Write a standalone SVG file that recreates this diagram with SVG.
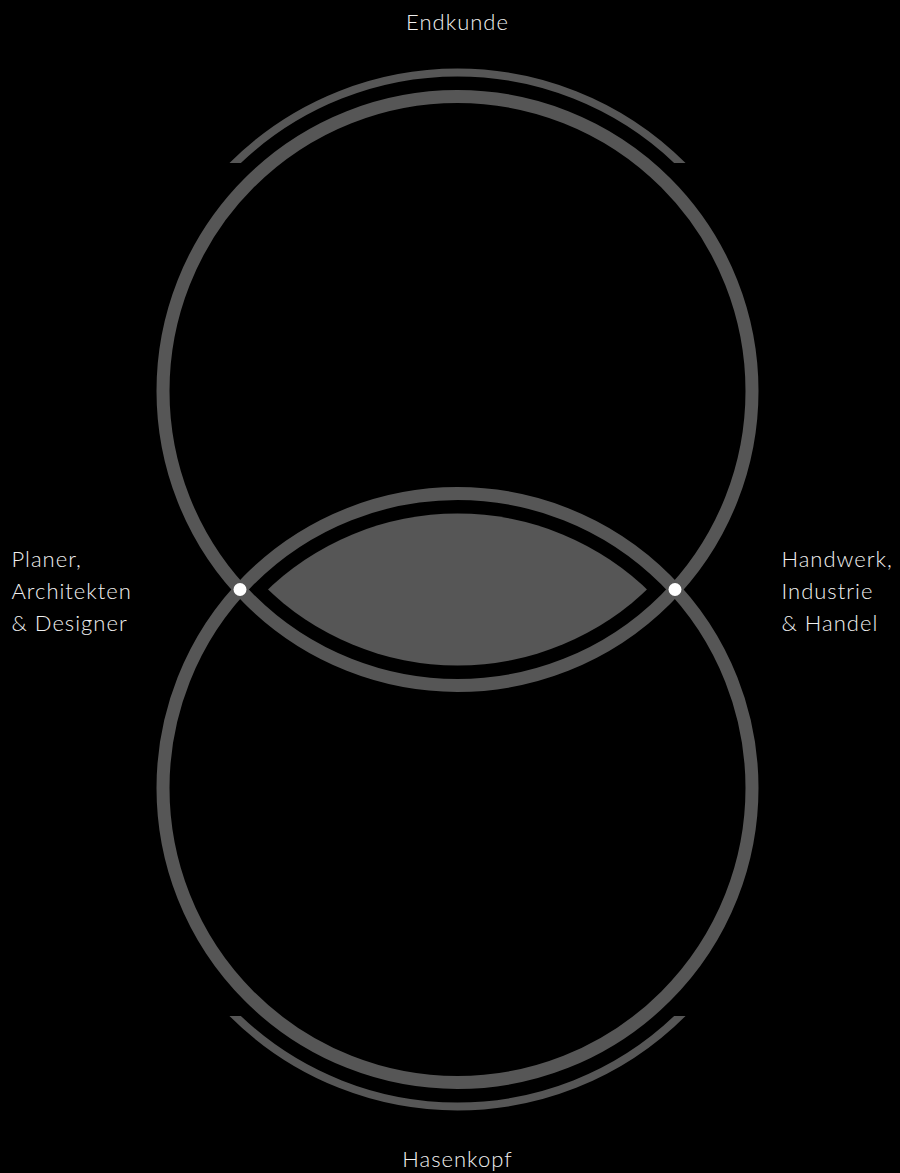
<svg xmlns="http://www.w3.org/2000/svg" width="900" height="1173" viewBox="0 0 900 1173">
  <style>
    .ring { fill: none; stroke: #565656; stroke-width: 13; }
    .arc { fill: none; stroke: #565656; stroke-width: 8; }
    .lbl { fill: #f0f0f0; font-family: Lato, "Noto Sans", "Liberation Sans", sans-serif; font-size: 22px; font-weight: 300; letter-spacing: 1px; }
    .dot { fill: #ffffff; }
  </style>
  <defs>
    <clipPath id="clipTop"><rect x="0" y="0" width="900" height="163"/></clipPath>
    <clipPath id="clipBot"><rect x="0" y="1016" width="900" height="157"/></clipPath>
    <clipPath id="clipLens"><circle cx="457.5" cy="391" r="274.5"/></clipPath>
  </defs>
  <rect x="0" y="0" width="900" height="1173" fill="#000000"/>
  <g id="lens">
    <circle cx="457.5" cy="788" r="274.5" fill="#565656" clip-path="url(#clipLens)"/>
  </g>
  <g id="circle-top">
    <circle class="ring" cx="457.5" cy="391" r="294.5"/>
    <circle class="arc" cx="457.5" cy="391" r="318.5" clip-path="url(#clipTop)"/>
  </g>
  <g id="circle-bottom">
    <circle class="ring" cx="457.5" cy="788" r="294.5"/>
    <circle class="arc" cx="457.5" cy="788" r="318.5" clip-path="url(#clipBot)"/>
  </g>
  <g id="dots">
    <circle class="dot" cx="240" cy="589.5" r="6.5"/>
    <circle class="dot" cx="675" cy="589.5" r="6.5"/>
  </g>
  <g id="label-top"><text class="lbl" x="457.5" y="30" text-anchor="middle">Endkunde</text></g>
  <g id="label-bottom"><text class="lbl" x="457.5" y="1166.5" text-anchor="middle">Hasenkopf</text></g>
  <g id="label-left">
    <text class="lbl" x="11.5" y="566.5">Planer,</text>
    <text class="lbl" x="11.5" y="599">Architekten</text>
    <text class="lbl" x="11.5" y="630.5">&amp; Designer</text>
  </g>
  <g id="label-right">
    <text class="lbl" x="781.5" y="566.5">Handwerk,</text>
    <text class="lbl" x="781.5" y="599">Industrie</text>
    <text class="lbl" x="781.5" y="630.5">&amp; Handel</text>
  </g>
</svg>
